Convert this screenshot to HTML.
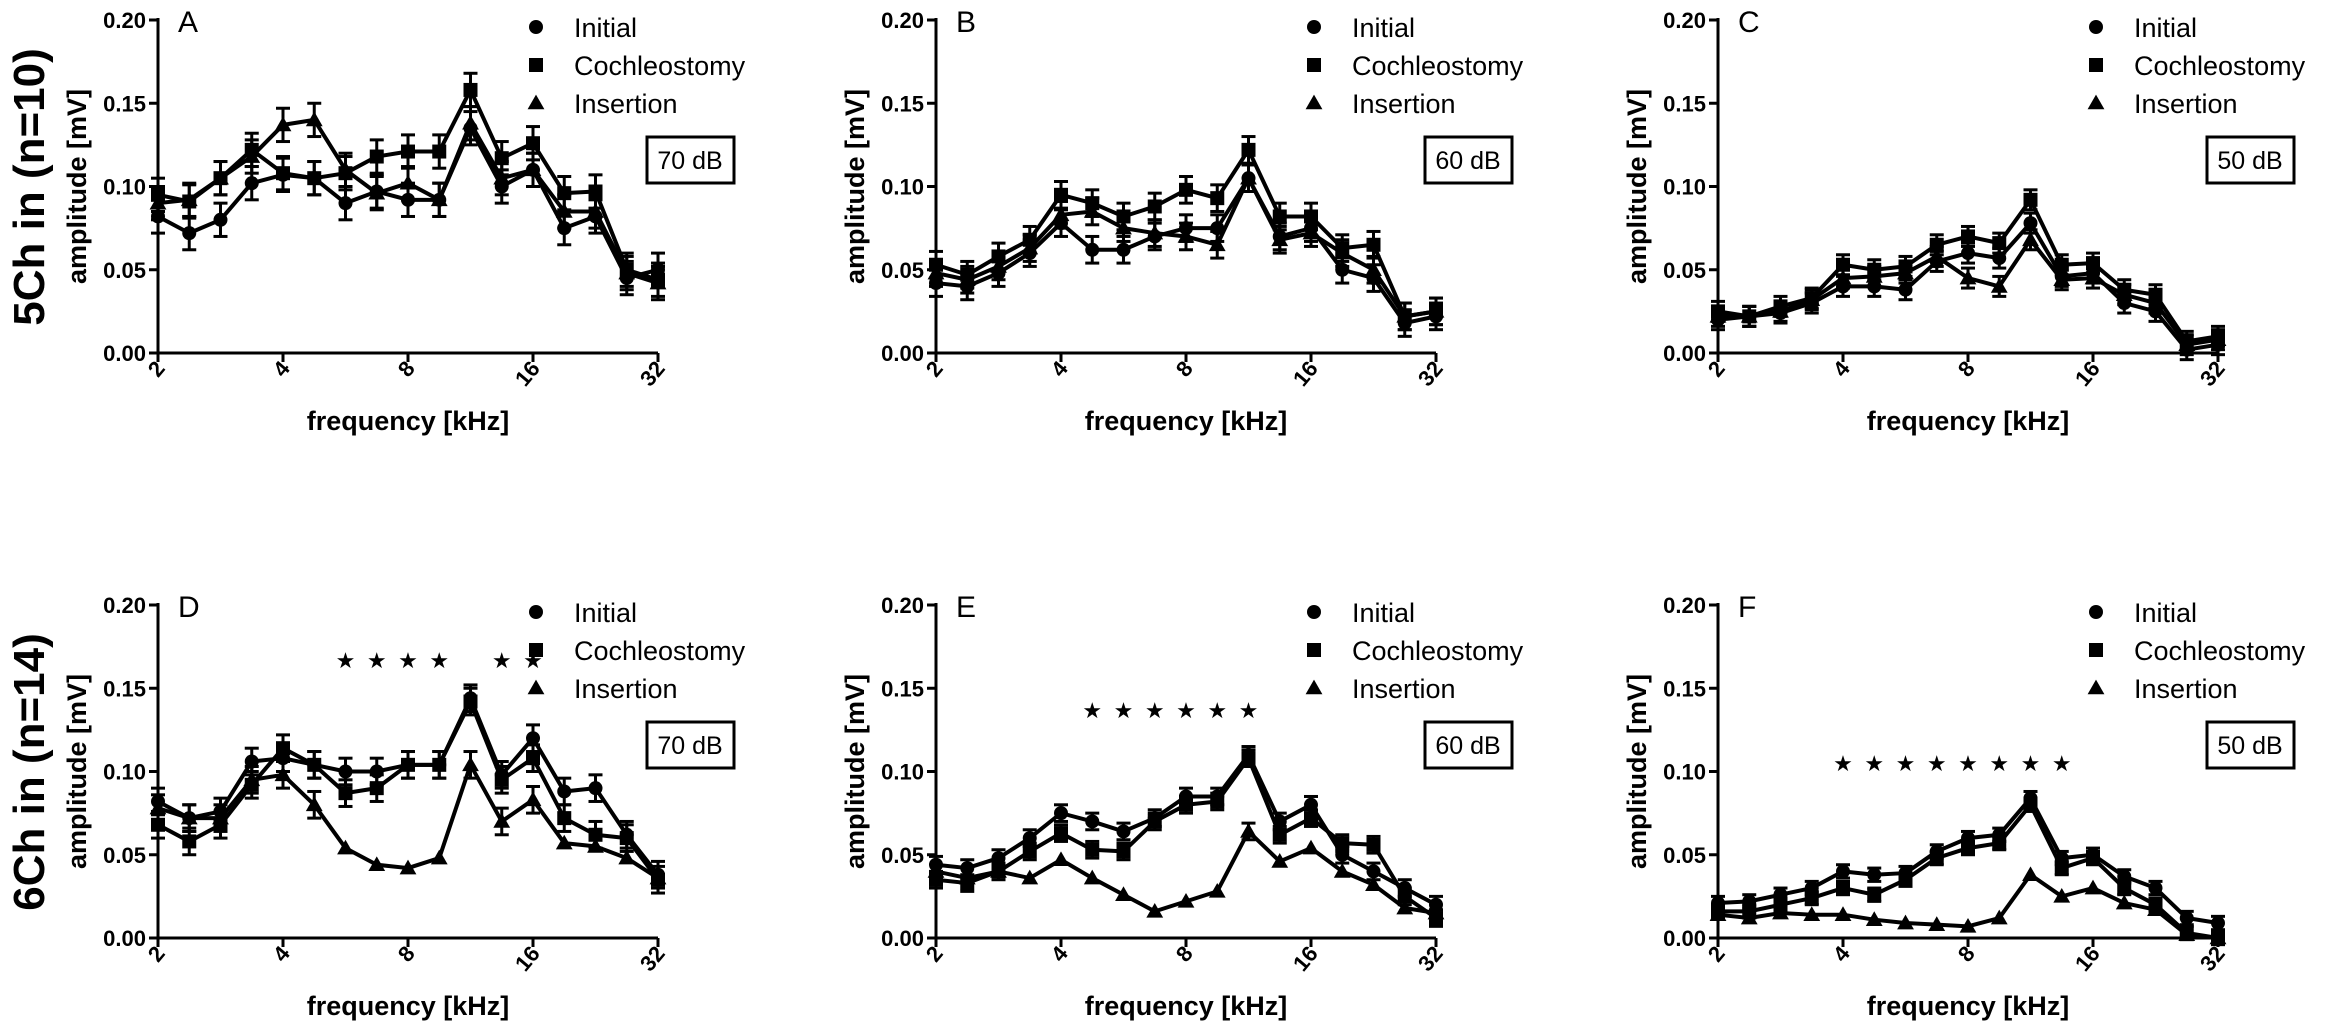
<!DOCTYPE html>
<html><head><meta charset="utf-8">
<style>
html,body{margin:0;padding:0;background:#fff;}
svg{display:block;font-family:"Liberation Sans",Arial,sans-serif;}
</style></head>
<body>
<svg id="fig" width="2341" height="1024" viewBox="0 0 2341 1024" xmlns="http://www.w3.org/2000/svg">
<text transform="translate(44,187) rotate(-90)" text-anchor="middle" font-size="44" font-weight="bold">5Ch in (n=10)</text>
<text transform="translate(44,772) rotate(-90)" text-anchor="middle" font-size="44" font-weight="bold">6Ch in (n=14)</text>
</svg>
<script>
const freqTicks = ["2","4","8","16","32"];
const yTicks = [0, 0.05, 0.10, 0.15, 0.20];
const yTickLabels = ["0.00","0.05","0.10","0.15","0.20"];
const seriesNames = ["Initial","Cochleostomy","Insertion"];
const panelLetters = ["A","B","C","D","E","F"];
const panelLevels = ["70 dB","60 dB","50 dB","70 dB","60 dB","50 dB"];
// 17 quarter-octave points 2..32 kHz (index along log axis)
const pointIndex = [0,1,2,3,4,5,6,7,8,9,10,11,12,13,14,15,16];

const aInitial = [.082,.072,.080,.102,.107,.105,.090,.097,.092,.092,.135,.100,.110,.075,.082,.045,.050];
const aCoch    = [.095,.091,.105,.122,.108,.105,.108,.118,.121,.121,.158,.117,.126,.096,.097,.050,.044];
const aIns     = [.090,.092,.105,.118,.137,.140,.110,.096,.102,.092,.138,.105,.110,.085,.085,.048,.042];

const bInitial = [.042,.040,.048,.060,.078,.062,.062,.070,.075,.075,.105,.070,.075,.050,.045,.018,.022];
const bCoch    = [.053,.047,.058,.068,.095,.090,.082,.088,.098,.093,.122,.082,.082,.063,.065,.022,.025];
const bIns     = [.048,.044,.052,.063,.083,.085,.075,.072,.070,.065,.105,.068,.072,.060,.050,.022,.025];

const cInitial = [.020,.022,.024,.030,.040,.040,.038,.055,.060,.057,.078,.046,.048,.030,.025,.002,.005];
const cCoch    = [.025,.022,.028,.033,.053,.050,.052,.065,.070,.066,.092,.053,.054,.038,.035,.007,.010];
const cIns     = [.022,.022,.025,.032,.045,.046,.048,.058,.045,.040,.068,.044,.045,.035,.030,.005,.008];

const dInitial = [.082,.072,.076,.106,.108,.104,.100,.100,.104,.104,.144,.098,.120,.088,.090,.062,.038];
const dCoch    = [.068,.058,.068,.092,.114,.104,.087,.090,.104,.104,.142,.095,.108,.072,.062,.060,.035];
const dIns     = [.078,.072,.072,.095,.098,.080,.054,.044,.042,.048,.104,.070,.083,.057,.055,.048,.036];

const eInitial = [.044,.042,.048,.060,.075,.070,.064,.072,.085,.085,.110,.070,.080,.050,.040,.030,.020];
const eCoch    = [.035,.033,.040,.052,.063,.053,.052,.070,.080,.082,.108,.062,.072,.057,.056,.025,.012];
const eIns     = [.040,.036,.040,.036,.047,.036,.026,.016,.022,.028,.064,.046,.054,.040,.032,.018,.015];

const fInitial = [.021,.022,.026,.030,.040,.038,.039,.052,.060,.062,.084,.048,.050,.037,.030,.012,.009];
const fCoch    = [.016,.016,.020,.024,.030,.026,.035,.048,.054,.057,.080,.042,.048,.030,.020,.003,.000];
const fIns     = [.014,.012,.015,.014,.014,.011,.009,.008,.007,.012,.038,.025,.030,.021,.017,.002,.000];

const panelErr = [0.010, 0.008, 0.006, 0.008, 0.005, 0.004];
const starsD = [6,7,8,9,11,12];
const starsE = [5,6,7,8,9,10];
const starsF = [4,5,6,7,8,9,10,11];
const starValue = [0, 0, 0, 0.167, 0.137, 0.105];

const panelData = [[aInitial,aCoch,aIns],[bInitial,bCoch,bIns],[cInitial,cCoch,cIns],
                   [dInitial,dCoch,dIns],[eInitial,eCoch,eIns],[fInitial,fCoch,fIns]];
const panelStars = [[],[],[],starsD,starsE,starsF];

const NS = "http://www.w3.org/2000/svg";
const svg = document.getElementById("fig");
const axisX = [158, 936, 1718];
const topY = [20, 605];
const W = 500, H = 333;

function mk(tag, attrs, parent){
  const e = document.createElementNS(NS, tag);
  for (const k in attrs) e.setAttribute(k, attrs[k]);
  parent.appendChild(e);
  return e;
}
function marker(g, kind, x, y, s){
  let m;
  if (kind===0) m = mk("circle",{cx:x,cy:y,r:s/2,fill:"#000"},g);
  else if (kind===1) m = mk("rect",{x:x-s/2,y:y-s/2,width:s,height:s,fill:"#000"},g);
  else m = mk("polygon",{points:`${x},${y-s*0.6} ${x-s*0.6},${y+s*0.45} ${x+s*0.6},${y+s*0.45}`,fill:"#000"},g);
  return m;
}

for (let p=0; p<6; p++){
  const x0 = axisX[p%3], y0 = topY[Math.floor(p/3)];
  const xs = i => x0 + i*(W/16);
  const ys = v => y0 + H - v/0.2*H;
  const g = mk("g",{},svg);
  
  

  // y axis
  const ya = mk("line",{x1:x0,y1:y0-2,x2:x0,y2:y0+H,stroke:"#000","stroke-width":3},g);
  
  
  yTicks.forEach((t,k)=>{
    mk("line",{x1:x0-9,y1:ys(t),x2:x0,y2:ys(t),stroke:"#000","stroke-width":3},g);
    const tl = mk("text",{x:x0-12,y:ys(t)+8,"text-anchor":"end","font-size":22,"font-weight":"bold"},g);
    tl.textContent = yTickLabels[k];
    
    
  });
  // x axis
  const xa = mk("line",{x1:x0,y1:y0+H,x2:x0+W,y2:y0+H,stroke:"#000","stroke-width":3},g);
  
  
  freqTicks.forEach((t,k)=>{
    const tx = xs(k*4);
    mk("line",{x1:tx,y1:y0+H,x2:tx,y2:y0+H+9,stroke:"#000","stroke-width":3},g);
    const tl = mk("text",{transform:`translate(${tx+8},${y0+H+16}) rotate(-50)`,"text-anchor":"end","font-size":22,"font-weight":"bold"},g);
    tl.textContent = t;
    
    
  });
  const xt = mk("text",{x:x0+250,y:y0+H+77,"text-anchor":"middle","font-size":27,"font-weight":"bold"},g);
  xt.textContent = "frequency [kHz]";
  
  
  const yt = mk("text",{transform:`translate(${x0-72},${y0+H/2}) rotate(-90)`,"text-anchor":"middle","font-size":27,"font-weight":"bold"},g);
  yt.textContent = "amplitude [mV]";
  
  
  const lt = mk("text",{x:x0+20,y:y0+12,"font-size":30},g);
  lt.textContent = panelLetters[p];
  
  

  // series
  const err = panelErr[p];
  panelData[p].forEach((vals,s)=>{
    const sg = mk("g",{},g);
    
    
    const pts = vals.map((v,i)=>`${xs(pointIndex[i])},${ys(v)}`).join(" ");
    mk("polyline",{points:pts,fill:"none",stroke:"#000","stroke-width":4,"stroke-linejoin":"round"},sg);
    vals.forEach((v,i)=>{
      const cx = xs(pointIndex[i]);
      if (!(p>=3 && s===2 && v<0.06)) {
        mk("line",{x1:cx,y1:ys(v+err),x2:cx,y2:ys(v-err),stroke:"#000","stroke-width":3},sg);
        mk("line",{x1:cx-7,y1:ys(v+err),x2:cx+7,y2:ys(v+err),stroke:"#000","stroke-width":3},sg);
        mk("line",{x1:cx-7,y1:ys(v-err),x2:cx+7,y2:ys(v-err),stroke:"#000","stroke-width":3},sg);
      }
      const m = marker(sg, s, cx, ys(v), 14);
      
      
    });
  });
  // stars
  panelStars[p].forEach(i=>{
    const st = mk("text",{x:xs(i),y:ys(starValue[p])+8,"text-anchor":"middle","font-size":22},g);
    st.textContent = "★";
    
    
  });
  // legend
  seriesNames.forEach((n,s)=>{
    const ly = y0 + 7 + s*38;
    const lg = mk("g",{},g);
    
    
    marker(lg, s, x0+378, ly, 14);
    const tx = mk("text",{x:x0+416,y:ly+10,"font-size":27},lg);
    tx.textContent = n;
  });
  const bx = mk("rect",{x:x0+489,y:y0+117,width:87,height:46,fill:"#fff",stroke:"#000","stroke-width":3},g);
  
  
  const bt = mk("text",{x:x0+532,y:y0+149,"text-anchor":"middle","font-size":25},g);
  bt.textContent = panelLevels[p];
  
  
}
</script>
</body></html>
